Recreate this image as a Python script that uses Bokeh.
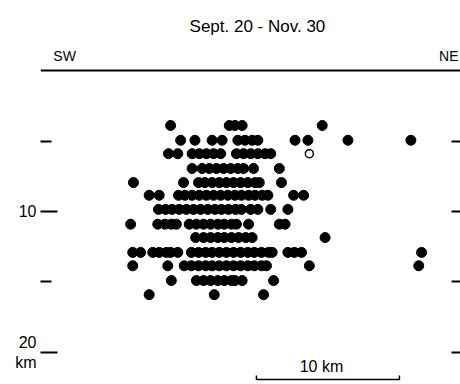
from bokeh.plotting import figure
from bokeh.models import Range1d, LinearAxis, FixedTicker, Label, Span
from bokeh.embed import file_html
from bokeh.resources import INLINE

# Hypocentre cross-section (horizontal distance from SW end, km; depth, km)
depth_rows = [3.9, 4.95, 5.9, 6.95, 7.95, 8.85, 9.85, 10.9, 11.85, 12.9, 13.85, 14.9, 15.9]
dist_r01 = [9.1, 13.2, 13.6, 14.1, 19.7]
dist_r02 = [9.8, 10.8, 12.0, 12.7, 13.8, 14.3, 14.8, 15.2, 17.8, 18.7, 21.5, 25.9]
dist_r03 = [8.95, 9.6, 10.6, 11.1, 11.6, 12.1, 12.6, 13.7, 14.2, 14.7, 15.2, 15.7, 16.1]
dist_r04 = [10.6, 11.3, 11.8, 12.3, 12.8, 13.3, 13.8, 14.2, 14.9, 16.7]
dist_r05 = [6.5, 10.0, 11.05, 11.5, 12.0, 12.5, 13.0, 13.5, 14.0, 14.5, 15.0, 15.3, 16.85]
dist_r06 = [7.6, 8.3, 9.65, 10.1, 10.6, 11.1, 11.6, 12.1, 12.6, 13.1, 13.6, 14.05, 14.55,
            15.0, 15.5, 15.9, 17.7, 18.4]
dist_r07 = [8.25, 8.75, 9.2, 9.7, 10.2, 10.7, 11.2, 11.7, 12.2, 12.65, 13.15, 13.65, 14.05,
            14.7, 15.2, 16.1, 17.3]
dist_r08 = [6.3, 8.2, 8.7, 9.15, 9.5, 10.4, 10.9, 11.4, 11.9, 12.4, 12.85, 13.35, 13.7,
            14.55, 16.7, 17.1]
dist_r09 = [10.85, 11.4, 11.9, 12.4, 12.85, 13.35, 13.85, 14.35, 14.8, 19.9]
dist_r10 = [6.45, 7.0, 7.85, 8.3, 8.8, 9.1, 9.6, 10.55, 11.05, 11.55, 12.0, 12.5, 13.0,
            13.5, 14.0, 14.5, 14.95, 15.45, 15.95, 16.2, 17.3, 17.75, 18.25, 26.65]
dist_r11 = [6.45, 8.9, 10.05, 10.55, 11.05, 11.55, 12.0, 12.5, 13.0, 13.5, 14.0, 14.5,
            14.95, 15.45, 15.8, 18.8, 26.45]
dist_r12 = [9.15, 10.9, 11.4, 11.9, 12.4, 12.85, 13.35, 13.6, 14.1, 16.3]
dist_r13 = [7.6, 12.15, 15.6]
open_dist = [18.8]
open_depth = [5.9]

left_ticks = [10, 20]
left_minor = [5, 15]
left_labels = {10: "10", 20: "20\nkm"}
right_ticks = [5, 10, 15, 20]
scale_start = 15.1
scale_len = 10
scale_depth = 21.91

rows = [dist_r01, dist_r02, dist_r03, dist_r04, dist_r05, dist_r06, dist_r07,
        dist_r08, dist_r09, dist_r10, dist_r11, dist_r12, dist_r13]
xs, ys = [], []
for d, r in zip(depth_rows, rows):
    xs += r
    ys += [d] * len(r)

FONT = "Liberation Sans"

p = figure(width=460, height=384, x_range=Range1d(0, 29.37), y_range=Range1d(22.27, -4.965),
           output_backend="svg", toolbar_location=None,
           x_axis_location=None, y_axis_location=None,
           min_border_left=40, min_border_right=0, min_border_top=0, min_border_bottom=0)
p.outline_line_color = None
p.xgrid.visible = False
p.ygrid.visible = False
p.background_fill_color = "white"
p.border_fill_color = "white"

left = LinearAxis(ticker=FixedTicker(ticks=left_ticks, minor_ticks=left_minor),
                  axis_line_color=None, major_tick_in=17, major_tick_out=0,
                  minor_tick_in=11, minor_tick_out=0,
                  major_tick_line_width=2, minor_tick_line_width=2,
                  major_label_standoff=4, major_label_text_font_size="16px",
                  major_label_text_font=FONT, major_label_text_color="black",
                  major_label_overrides=left_labels)
p.add_layout(left, "left")

right = LinearAxis(ticker=FixedTicker(ticks=right_ticks, minor_ticks=[]),
                   axis_line_color=None, major_tick_in=9, major_tick_out=0,
                   major_tick_line_width=2, minor_tick_line_color=None,
                   major_label_standoff=0, major_label_text_font_size="0px",
                   major_label_overrides={t: "" for t in right_ticks})
p.add_layout(right, "right")

p.add_layout(Span(location=0, dimension="width", line_color="black", line_width=2))

p.scatter(xs, ys, size=10, color="black")
p.scatter(open_dist, open_depth, size=8, fill_color="white", line_color="black", line_width=1.5)

p.line([scale_start, scale_start, scale_start + scale_len, scale_start + scale_len],
       [scale_depth - 0.28, scale_depth, scale_depth, scale_depth - 0.28],
       line_color="black", line_width=1.5)

def lab(x, y, t, size, align="left"):
    p.add_layout(Label(x=x, y=y, text=t, text_font=FONT, text_font_size=size,
                       text_align=align, text_baseline="alphabetic", text_color="black"))

lab(15.17, -3.1, "Sept. 20 - Nov. 30", "17px", "center")
lab(0.9, -1.06, "SW", "14px", "left")
lab(29.23, -1.06, "NE", "14px", "right")
lab(19.65, 20.99, "10 km", "16px", "center")

open("out.html", "w").write(file_html(p, INLINE))
